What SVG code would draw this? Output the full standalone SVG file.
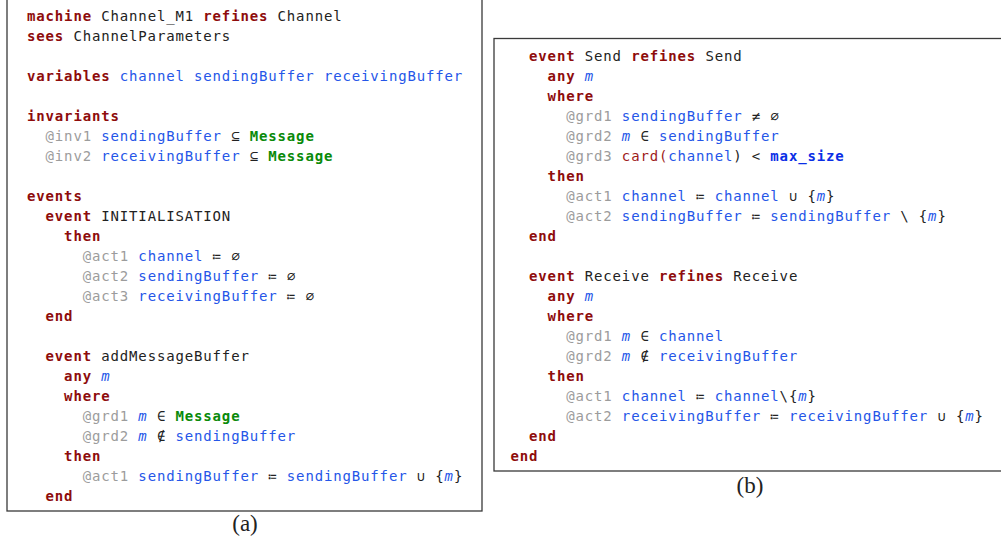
<svg xmlns="http://www.w3.org/2000/svg" width="1001" height="545" viewBox="0 0 1001 545">
<style>
.box{fill:#fff;stroke:#3a3a3a;stroke-width:1.3}
.t{font-family:"DejaVu Sans Mono",monospace;font-size:14px;letter-spacing:0.85px;fill:#222}
.k{font-weight:bold;fill:#8e0c0c}
.v{fill:#2556e8}
.g{font-weight:bold;fill:#0a8a0a}
.l{fill:#9c9c9c}
.i{fill:#222}
.o{fill:#222}
.it{font-style:italic;fill:#2556e8}
.f{fill:#9e1a1a}
.mx{font-weight:bold;fill:#0a2ee6}
.cap{font-family:"Liberation Serif",serif;font-size:23px;fill:#222;text-anchor:middle}
</style>
<rect width="1001" height="545" fill="#fff"/>
<g id="panel-a">
<rect class="box" x="7" y="-2" width="475" height="513"/>
<text class="t" y="21"><tspan class="k" x="27">machine</tspan><tspan class="i" x="101.24">Channel_M1</tspan><tspan class="k" x="203.32">refines</tspan><tspan class="i" x="277.56">Channel</tspan></text>
<text class="t" y="41"><tspan class="k" x="27">sees</tspan><tspan class="i" x="73.4">ChannelParameters</tspan></text>
<text class="t" y="81"><tspan class="k" x="27">variables</tspan><tspan class="v" x="119.8">channel sendingBuffer receivingBuffer</tspan></text>
<text class="t" y="121"><tspan class="k" x="27">invariants</tspan></text>
<text class="t" y="141"><tspan class="l" x="45.56">@inv1</tspan><tspan class="v" x="101.24">sendingBuffer</tspan><tspan class="o" x="231.16">⊆</tspan><tspan class="g" x="249.72">Message</tspan></text>
<text class="t" y="161"><tspan class="l" x="45.56">@inv2</tspan><tspan class="v" x="101.24">receivingBuffer</tspan><tspan class="o" x="249.72">⊆</tspan><tspan class="g" x="268.28">Message</tspan></text>
<text class="t" y="201"><tspan class="k" x="27">events</tspan></text>
<text class="t" y="221"><tspan class="k" x="45.56">event</tspan><tspan class="i" x="101.24">INITIALISATION</tspan></text>
<text class="t" y="241"><tspan class="k" x="64.12">then</tspan></text>
<text class="t" y="261"><tspan class="l" x="82.68">@act1</tspan><tspan class="v" x="138.36">channel</tspan><tspan class="o" x="212.6">≔</tspan><tspan class="o" x="231.16">∅</tspan></text>
<text class="t" y="281"><tspan class="l" x="82.68">@act2</tspan><tspan class="v" x="138.36">sendingBuffer</tspan><tspan class="o" x="268.28">≔</tspan><tspan class="o" x="286.84">∅</tspan></text>
<text class="t" y="301"><tspan class="l" x="82.68">@act3</tspan><tspan class="v" x="138.36">receivingBuffer</tspan><tspan class="o" x="286.84">≔</tspan><tspan class="o" x="305.4">∅</tspan></text>
<text class="t" y="321"><tspan class="k" x="45.56">end</tspan></text>
<text class="t" y="361"><tspan class="k" x="45.56">event</tspan><tspan class="i" x="101.24">addMessageBuffer</tspan></text>
<text class="t" y="381"><tspan class="k" x="64.12">any</tspan><tspan class="it" x="101.24">m</tspan></text>
<text class="t" y="401"><tspan class="k" x="64.12">where</tspan></text>
<text class="t" y="421"><tspan class="l" x="82.68">@grd1</tspan><tspan class="it" x="138.36">m</tspan><tspan class="o" x="156.92">∈</tspan><tspan class="g" x="175.48">Message</tspan></text>
<text class="t" y="441"><tspan class="l" x="82.68">@grd2</tspan><tspan class="it" x="138.36">m</tspan><tspan class="o" x="156.92">∉</tspan><tspan class="v" x="175.48">sendingBuffer</tspan></text>
<text class="t" y="461"><tspan class="k" x="64.12">then</tspan></text>
<text class="t" y="481"><tspan class="l" x="82.68">@act1</tspan><tspan class="v" x="138.36">sendingBuffer</tspan><tspan class="o" x="268.28">≔</tspan><tspan class="v" x="286.84">sendingBuffer</tspan><tspan class="o" x="416.76">∪</tspan><tspan class="o" x="435.32">{</tspan><tspan class="it" x="444.6">m</tspan><tspan class="o" x="453.88">}</tspan></text>
<text class="t" y="501"><tspan class="k" x="45.56">end</tspan></text>
<text class="cap" x="245" y="531">(a)</text>
</g>
<g id="panel-b">
<rect class="box" x="494" y="38.5" width="520" height="432.5"/>
<text class="t" y="61"><tspan class="k" x="529.06">event</tspan><tspan class="i" x="584.74">Send</tspan><tspan class="k" x="631.14">refines</tspan><tspan class="i" x="705.38">Send</tspan></text>
<text class="t" y="81"><tspan class="k" x="547.62">any</tspan><tspan class="it" x="584.74">m</tspan></text>
<text class="t" y="101"><tspan class="k" x="547.62">where</tspan></text>
<text class="t" y="121"><tspan class="l" x="566.18">@grd1</tspan><tspan class="v" x="621.86">sendingBuffer</tspan><tspan class="o" x="751.78">≠</tspan><tspan class="o" x="770.34">∅</tspan></text>
<text class="t" y="141"><tspan class="l" x="566.18">@grd2</tspan><tspan class="it" x="621.86">m</tspan><tspan class="o" x="640.42">∈</tspan><tspan class="v" x="658.98">sendingBuffer</tspan></text>
<text class="t" y="161"><tspan class="l" x="566.18">@grd3</tspan><tspan class="f" x="621.86">card(</tspan><tspan class="v" x="668.26">channel</tspan><tspan class="o" x="733.22">)</tspan><tspan class="o" x="751.78">&lt;</tspan><tspan class="mx" x="770.34">max_size</tspan></text>
<text class="t" y="181"><tspan class="k" x="547.62">then</tspan></text>
<text class="t" y="201"><tspan class="l" x="566.18">@act1</tspan><tspan class="v" x="621.86">channel</tspan><tspan class="o" x="696.1">≔</tspan><tspan class="v" x="714.66">channel</tspan><tspan class="o" x="788.9">∪</tspan><tspan class="o" x="807.46">{</tspan><tspan class="it" x="816.74">m</tspan><tspan class="o" x="826.02">}</tspan></text>
<text class="t" y="221"><tspan class="l" x="566.18">@act2</tspan><tspan class="v" x="621.86">sendingBuffer</tspan><tspan class="o" x="751.78">≔</tspan><tspan class="v" x="770.34">sendingBuffer</tspan><tspan class="o" x="900.26">\</tspan><tspan class="o" x="918.82">{</tspan><tspan class="it" x="928.1">m</tspan><tspan class="o" x="937.38">}</tspan></text>
<text class="t" y="241"><tspan class="k" x="529.06">end</tspan></text>
<text class="t" y="281"><tspan class="k" x="529.06">event</tspan><tspan class="i" x="584.74">Receive</tspan><tspan class="k" x="658.98">refines</tspan><tspan class="i" x="733.22">Receive</tspan></text>
<text class="t" y="301"><tspan class="k" x="547.62">any</tspan><tspan class="it" x="584.74">m</tspan></text>
<text class="t" y="321"><tspan class="k" x="547.62">where</tspan></text>
<text class="t" y="341"><tspan class="l" x="566.18">@grd1</tspan><tspan class="it" x="621.86">m</tspan><tspan class="o" x="640.42">∈</tspan><tspan class="v" x="658.98">channel</tspan></text>
<text class="t" y="361"><tspan class="l" x="566.18">@grd2</tspan><tspan class="it" x="621.86">m</tspan><tspan class="o" x="640.42">∉</tspan><tspan class="v" x="658.98">receivingBuffer</tspan></text>
<text class="t" y="381"><tspan class="k" x="547.62">then</tspan></text>
<text class="t" y="401"><tspan class="l" x="566.18">@act1</tspan><tspan class="v" x="621.86">channel</tspan><tspan class="o" x="696.1">≔</tspan><tspan class="v" x="714.66">channel</tspan><tspan class="o" x="779.62">\</tspan><tspan class="o" x="788.9">{</tspan><tspan class="it" x="798.18">m</tspan><tspan class="o" x="807.46">}</tspan></text>
<text class="t" y="421"><tspan class="l" x="566.18">@act2</tspan><tspan class="v" x="621.86">receivingBuffer</tspan><tspan class="o" x="770.34">≔</tspan><tspan class="v" x="788.9">receivingBuffer</tspan><tspan class="o" x="937.38">∪</tspan><tspan class="o" x="955.94">{</tspan><tspan class="it" x="965.22">m</tspan><tspan class="o" x="974.5">}</tspan></text>
<text class="t" y="441"><tspan class="k" x="529.06">end</tspan></text>
<text class="t" y="461"><tspan class="k" x="510.5">end</tspan></text>
<text class="cap" x="750" y="493">(b)</text>
</g>
</svg>
